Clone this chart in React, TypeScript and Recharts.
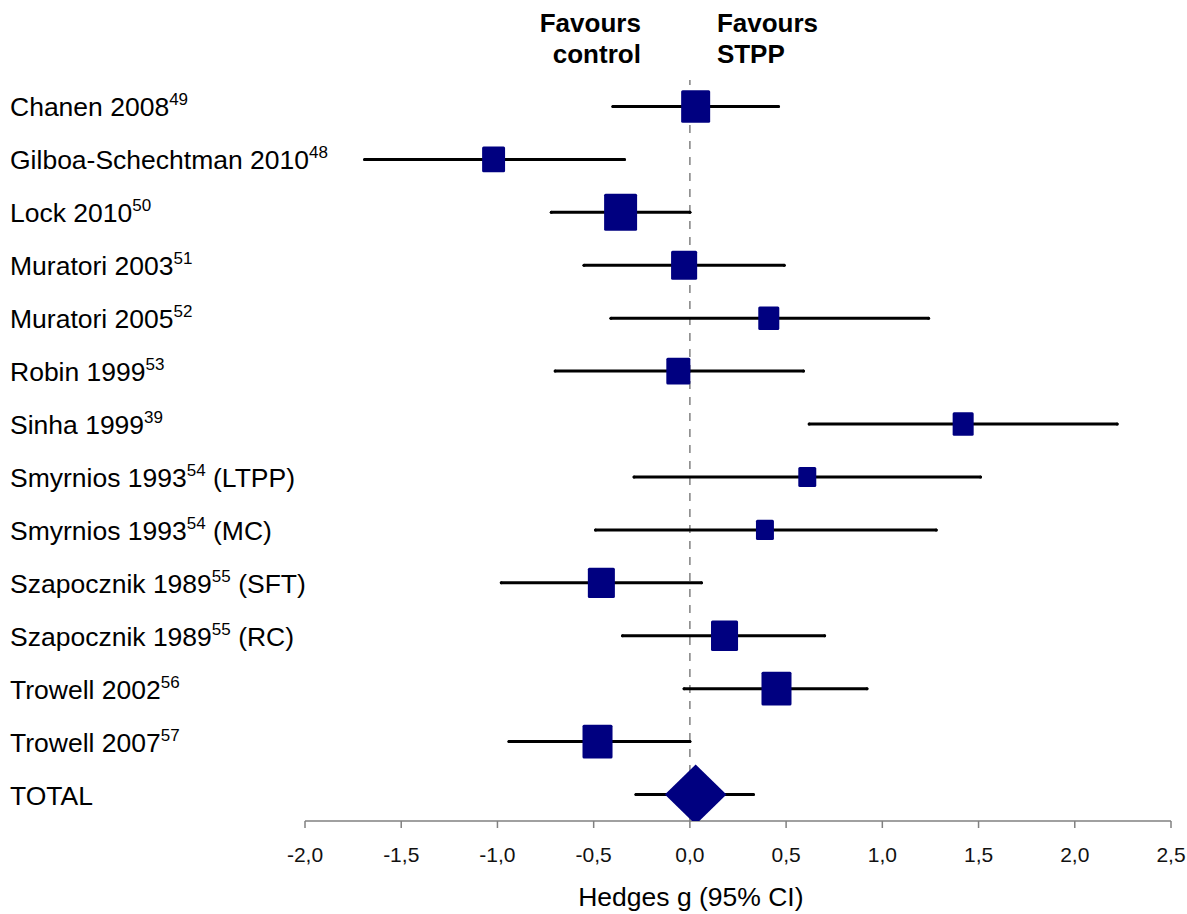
import React from "react";
import { ScatterChart, Scatter, XAxis, YAxis, ErrorBar, ReferenceLine } from "recharts";

// rows of the forest plot, top to bottom
const STUDIES = [
  "Chanen 2008",
  "Gilboa-Schechtman 2010",
  "Lock 2010",
  "Muratori 2003",
  "Muratori 2005",
  "Robin 1999",
  "Sinha 1999",
  "Smyrnios 1993",
  "Smyrnios 1993",
  "Szapocznik 1989",
  "Szapocznik 1989",
  "Trowell 2002",
  "Trowell 2007",
  "TOTAL",
];
const REFS = ["49", "48", "50", "51", "52", "53", "39", "54", "54", "55", "55", "56", "57", ""];
const ARMS = ["", "", "", "", "", "", "", "(LTPP)", "(MC)", "(SFT)", "(RC)", "", "", ""];

// Hedges g and 95% CI
const EFFECT = [0.03, -1.02, -0.36, -0.03, 0.41, -0.06, 1.42, 0.61, 0.39, -0.46, 0.18, 0.45, -0.48, 0.03];
const CI_LOW = [-0.4, -1.69, -0.72, -0.55, -0.41, -0.7, 0.62, -0.29, -0.49, -0.98, -0.35, -0.03, -0.94, -0.28];
const CI_HIGH = [0.46, -0.34, 0.0, 0.49, 1.24, 0.59, 2.22, 1.51, 1.28, 0.06, 0.7, 0.92, 0.0, 0.33];
// study weights (%), square area follows these
const WEIGHTS = [9.9, 6.2, 12.8, 8.0, 5.2, 6.8, 5.2, 3.8, 3.8, 8.6, 8.6, 10.6, 10.6, 0];
// pooled estimate CI drawn as the diamond
const POOLED_LOW = -0.13;
const POOLED_HIGH = 0.19;

const X_TICKS = [-2, -1.5, -1, -0.5, 0, 0.5, 1, 1.5, 2, 2.5];
const X_MIN = -2;
const X_MAX = 2.5;

const FONT = "'Liberation Sans', Arial, Helvetica, sans-serif";
const NAVY = "#000080";
const CHART_W = 1187;
const CHART_H = 914;
const Y_AXIS_W = 305;
const MARGIN = { top: 80, right: 16, bottom: 33, left: 0 };
const PX_PER_UNIT = (CHART_W - Y_AXIS_W - MARGIN.right - MARGIN.left) / (X_MAX - X_MIN);
const SQUARE_AREA = 85;
const DIAMOND_H = 60;

const rows = STUDIES.map((name, i) => ({
  row: i,
  name,
  effect: EFFECT[i],
  err: [EFFECT[i] - CI_LOW[i], CI_HIGH[i] - EFFECT[i]],
  weight: WEIGHTS[i],
  total: i === STUDIES.length - 1,
}));

function Marker(props: any) {
  const { cx, cy, payload } = props;
  if (payload.total) {
    const left = cx - (payload.effect - POOLED_LOW) * PX_PER_UNIT;
    const right = cx + (POOLED_HIGH - payload.effect) * PX_PER_UNIT;
    const hh = DIAMOND_H / 2;
    return (
      <polygon
        points={`${left},${cy} ${cx},${cy - hh} ${right},${cy} ${cx},${cy + hh}`}
        fill={NAVY}
      />
    );
  }
  const s = Math.sqrt(payload.weight * SQUARE_AREA);
  const h = s * 1.12;
  return <rect x={cx - s / 2} y={cy - h / 2} width={s} height={h} rx={1.5} fill={NAVY} />;
}

function StudyTick(props: any) {
  const { y, payload } = props;
  const i = payload.value;
  return (
    <text x={10} y={y + 10} fontFamily={FONT} fontSize={26.5} fill="#000">
      <tspan>{STUDIES[i]}</tspan>
      {REFS[i] && (
        <tspan fontSize={17} dy={-11}>
          {REFS[i]}
        </tspan>
      )}
      {ARMS[i] && <tspan dy={11}>{" " + ARMS[i]}</tspan>}
    </text>
  );
}

function ZeroLabels(props: any) {
  const vb = props.viewBox;
  if (!vb) return null;
  const { x, y, height } = vb;
  return (
    <g fontFamily={FONT} fill="#000">
      <text x={x - 49} y={y - 48} textAnchor="end" fontWeight="bold" fontSize={26}>
        Favours
      </text>
      <text x={x - 49} y={y - 17} textAnchor="end" fontWeight="bold" fontSize={26}>
        control
      </text>
      <text x={x + 27} y={y - 48} textAnchor="start" fontWeight="bold" fontSize={26}>
        Favours
      </text>
      <text x={x + 27} y={y - 17} textAnchor="start" fontWeight="bold" fontSize={26}>
        STPP
      </text>
      <text x={x + 1} y={y + height + 85} textAnchor="middle" fontSize={26.5}>
        Hedges g (95% CI)
      </text>
    </g>
  );
}

export default function App() {
  return (
    <div
      style={{
        position: "absolute",
        left: 0,
        top: 0,
        width: CHART_W,
        height: CHART_H,
        overflow: "hidden",
        background: "#fff",
      }}
    >
      <ScatterChart width={CHART_W} height={CHART_H} margin={MARGIN}>
        <XAxis
          type="number"
          dataKey="effect"
          domain={[X_MIN, X_MAX]}
          allowDataOverflow
          ticks={X_TICKS}
          interval={0}
          tickFormatter={(v: number) => v.toFixed(1).replace(".", ",")}
          stroke="#808080"
          strokeWidth={1.5}
          tickSize={7}
          tickMargin={19}
          height={60}
          tick={{ fill: "#111", fontSize: 21, fontFamily: FONT }}
        />
        <YAxis
          type="number"
          dataKey="row"
          domain={[-0.5, 13.5]}
          allowDataOverflow
          reversed
          ticks={rows.map((r) => r.row)}
          interval={0}
          width={Y_AXIS_W}
          axisLine={false}
          tickLine={false}
          tick={(p: any) => <StudyTick {...p} />}
        />
        <ReferenceLine
          x={0}
          stroke="#808080"
          strokeWidth={1.5}
          strokeDasharray="8 8"
          label={(p: any) => <ZeroLabels {...p} />}
        />
        <Scatter data={rows} shape={Marker} isAnimationActive={false}>
          <ErrorBar
            dataKey="err"
            direction="x"
            width={0}
            stroke="#000"
            strokeWidth={3}
            strokeLinecap="round"
            isAnimationActive={false}
          />
        </Scatter>
      </ScatterChart>
    </div>
  );
}
